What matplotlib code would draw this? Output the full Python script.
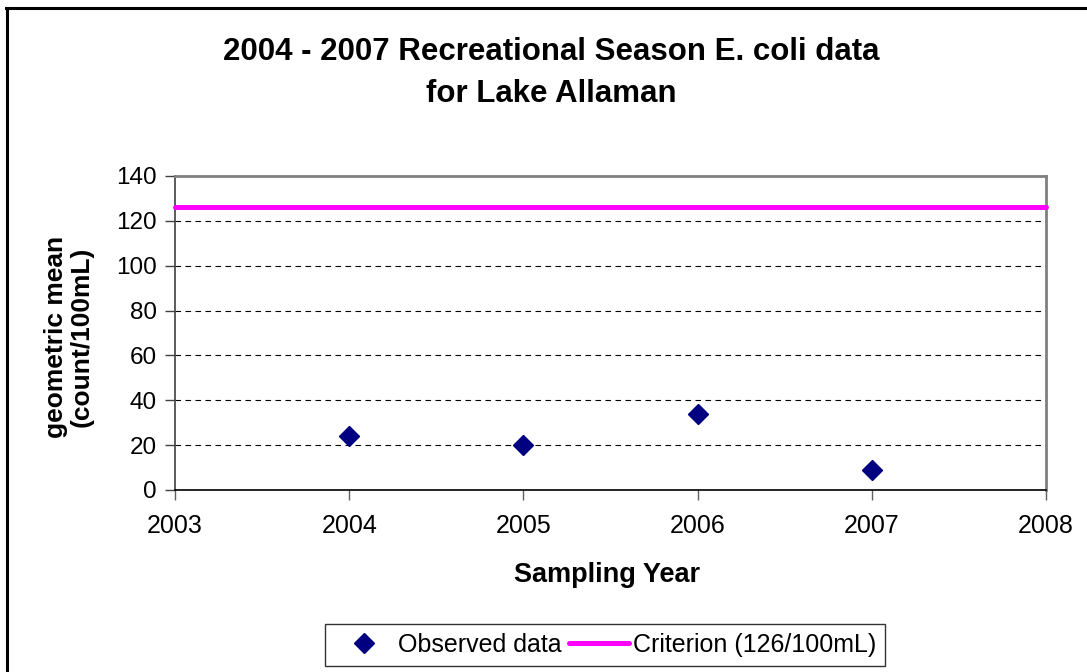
import matplotlib.pyplot as plt
from matplotlib.lines import Line2D

plt.rcParams['font.family'] = ['Liberation Sans', 'DejaVu Sans']

# data
years = [2004, 2005, 2006, 2007]
geo_mean = [24, 20, 34, 9]
criterion = 126
x_ticks = [2003, 2004, 2005, 2006, 2007, 2008]
y_ticks = [0, 20, 40, 60, 80, 100, 120, 140]

fig = plt.figure(figsize=(10.87, 6.72), dpi=100)
ax = fig.add_axes([175 / 1087, 1 - 490 / 672, (1046 - 175) / 1087, (490 - 176) / 672])

ax.plot(years, geo_mean, linestyle='none', marker='D', markersize=10.5,
        color='#000080', label='Observed data', zorder=4)
ax.plot([x_ticks[0], x_ticks[-1]], [criterion, criterion], color='#ff00ff',
        lw=3.6, solid_capstyle='round', label='Criterion (126/100mL)', zorder=3,
        clip_on=False)

ax.set_xlim(x_ticks[0], x_ticks[-1])
ax.set_ylim(y_ticks[0], y_ticks[-1])
ax.set_xticks(x_ticks)
ax.set_yticks(y_ticks)
ax.tick_params(axis='x', labelsize=18, direction='out', length=7, width=1,
               color='#606060', pad=10)
ax.tick_params(axis='y', labelsize=17.5, direction='out', length=7, width=1,
               color='#404040', pad=6)
ax.yaxis.grid(True, color='black', linestyle=(0, (5, 4)), lw=0.8)
ax.set_axisbelow(True)

for s in ['top', 'right']:
    ax.spines[s].set_color('#808080')
    ax.spines[s].set_linewidth(2)
ax.spines['left'].set_color('#404040')
ax.spines['bottom'].set_color('black')
ax.spines['left'].set_linewidth(1.2)
ax.spines['bottom'].set_linewidth(1.2)

fig.text(551 / 1087, 1 - 52 / 672, '2004 - 2007 Recreational Season E. coli data',
         ha='center', va='center', fontsize=22.5, fontweight='bold')
fig.text(551 / 1087, 1 - 94 / 672, 'for Lake Allaman',
         ha='center', va='center', fontsize=22.5, fontweight='bold')

fig.text(607 / 1087, 1 - 575 / 672, 'Sampling Year', ha='center', va='center',
         fontsize=19.5, fontweight='bold')
fig.text(69 / 1087, 1 - 337 / 672, 'geometric mean\n(count/100mL)', ha='center',
         va='center', rotation=90, fontsize=19, fontweight='bold', linespacing=1.1)

leg = fig.legend(loc='center', bbox_to_anchor=(605 / 1087, 1 - 645 / 672),
                 ncol=2, fontsize=18, frameon=True, fancybox=False,
                 handlelength=2.4, handletextpad=0.15, columnspacing=0.3,
                 borderpad=0.35, borderaxespad=0)
leg.get_frame().set_edgecolor('black')
leg.get_frame().set_linewidth(1)

# outer chart border (left and top only visible)
fig.add_artist(Line2D([7 / 1087, 7 / 1087], [0, 1 - 8 / 672], color='black', lw=2.2,
                      transform=fig.transFigure))
fig.add_artist(Line2D([6 / 1087, 1], [1 - 8 / 672, 1 - 8 / 672], color='black', lw=2.2,
                      transform=fig.transFigure))

fig.savefig('out.png', dpi=100)
